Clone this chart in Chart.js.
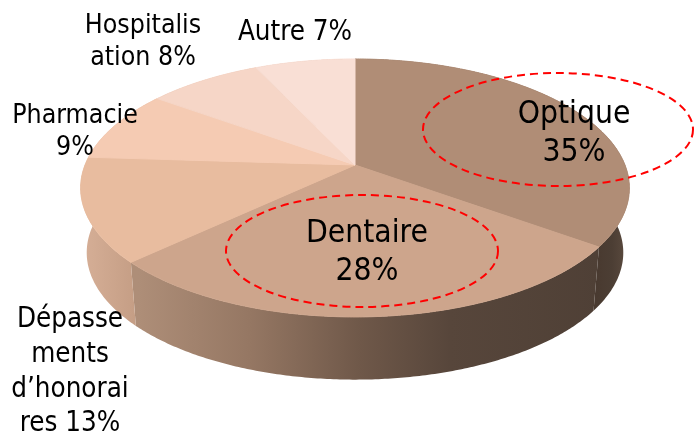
<!DOCTYPE html>
<html>
<head>
<meta charset="utf-8">
<style>html,body{margin:0;padding:0;background:#fff}canvas{display:block}</style>
<script src="https://cdn.jsdelivr.net/npm/chart.js@4/dist/chart.umd.min.js"></script>
</head>
<body>
<canvas id="c" width="694" height="437"></canvas>
<script>
const categories = ['Optique','Dentaire',"Dépassements d’honoraires",'Pharmacie','Hospitalisation','Autre'];
const shares = [35,28,13,9,8,7];
const topColors = ['#B08D76','#CDA58C','#E8BC9F','#F5CBB3','#F6D6C7','#F9DFD5'];
const labelLines = [['Optique','35%'],['Dentaire','28%'],['Dépasse','ments','d’honorai','res 13%'],['Pharmacie','9%'],['Hospitalis','ation 8%'],['Autre 7%']];
const labelAnchors = [[574,115,38,31.5],[367,234,38,31.5],[70,320,34.7,27.5],[75,116,32,26.5],[143,26,32,26.5],[295,33,32,27.5]];
const wallStops = [
  [[597,'#493A30'],[612,'#4C3E34'],[630,'#5E4D41']],
  [[138,'#AE8E78'],[250,'#957763'],[360,'#6F5849'],[450,'#57463B'],[600,'#4F4036']],
  [[82,'#D6AF97'],[138,'#C49D84']],
  [[82,'#D6AF97'],[138,'#C49D84']],
  [[82,'#D6AF97'],[138,'#C49D84']],
  [[82,'#D6AF97'],[138,'#C49D84']]
];
const rings = [[558,129.5,135,56.5],[362,251,136,56]];

const topView = {ax:355, ay:165, A:270, B:124.9, k:0.178};
const baseView = {ax:355, ay:230, A:264, B:123, k:0.178};
function project(view,u,v){
  const d = 1 - view.k*v;
  return [view.ax + view.A*u/d, view.ay + view.B*v/d];
}
function perspectiveCtx(ctx, cx, cy, R){
  const map = (x,y)=>project(topView,(x-cx)/R,(y-cy)/R);
  return new Proxy(ctx,{
    get(t,p){
      if(p==='moveTo') return (x,y)=>{const q=map(x,y);t.moveTo(q[0],q[1]);};
      if(p==='lineTo') return (x,y)=>{const q=map(x,y);t.lineTo(q[0],q[1]);};
      if(p==='arc') return (x,y,r,a0,a1,ccw)=>{
        const n=Math.max(2,Math.ceil(Math.abs(a1-a0)/0.01));
        const da=(a1-a0)/n;
        for(let i=0;i<=n;i++){
          const a=a0+da*i;
          const q=map(x+r*Math.cos(a),y+r*Math.sin(a));
          t.lineTo(q[0],q[1]);
        }
      };
      const val=t[p];
      return typeof val==='function'?val.bind(t):val;
    },
    set(t,p,v){t[p]=v;return true;}
  });
}
const perspectivePie = {
  id:'perspectivePie',
  beforeDatasetDraw(chart,args){
    const ctx=chart.ctx, arcs=args.meta.data;
    const R=arcs[0].outerRadius;
    arcs.forEach((arc,i)=>{
      const g=ctx.createLinearGradient(0,0,694,0);
      wallStops[i].forEach(s=>g.addColorStop(s[0]/694,s[1]));
      const n=Math.ceil((arc.endAngle-arc.startAngle)/0.01);
      const rim=[];
      for(let j=0;j<=n;j++){rim.push(arc.startAngle+(arc.endAngle-arc.startAngle)*j/n);}
      ctx.save();
      ctx.beginPath();
      rim.forEach((a,j)=>{
        const q=project(topView,Math.cos(a),Math.sin(a));
        if(j===0) ctx.moveTo(q[0],q[1]); else ctx.lineTo(q[0],q[1]);
      });
      rim.slice().reverse().forEach(a=>{
        const q=project(baseView,Math.cos(a),Math.sin(a));
        ctx.lineTo(q[0],q[1]);
      });
      ctx.closePath();
      ctx.fillStyle=g;
      ctx.fill();
      ctx.restore();
    });
    const view=perspectiveCtx(ctx,arcs[0].x,arcs[0].y,R);
    arcs.forEach(arc=>arc.draw(view,chart.chartArea));
    return false;
  },
  afterDatasetsDraw(chart){
    const ctx=chart.ctx;
    ctx.save();
    ctx.strokeStyle='#FF0000';
    ctx.lineWidth=2;
    ctx.setLineDash([8,5]);
    rings.forEach(r=>{
      ctx.beginPath();
      ctx.ellipse(r[0],r[1],r[2],r[3],0,0,Math.PI*2);
      ctx.stroke();
    });
    ctx.restore();
    ctx.save();
    ctx.fillStyle='#000';
    ctx.textAlign='center';
    ctx.textBaseline='middle';
    labelLines.forEach((lines,i)=>{
      const a=labelAnchors[i];
      ctx.font='condensed '+a[3]+'px "DejaVu Sans"';
      lines.forEach((s,j)=>ctx.fillText(s,a[0],a[1]+j*a[2]));
    });
    ctx.restore();
  }
};
new Chart(document.getElementById('c'),{
  type:'pie',
  data:{labels:categories,datasets:[{data:shares,backgroundColor:topColors,borderColor:topColors,borderWidth:1}]},
  options:{responsive:false,animation:false,layout:{padding:0},
    plugins:{legend:{display:false},tooltip:{enabled:false}}},
  plugins:[perspectivePie]
});
</script>
</body>
</html>
